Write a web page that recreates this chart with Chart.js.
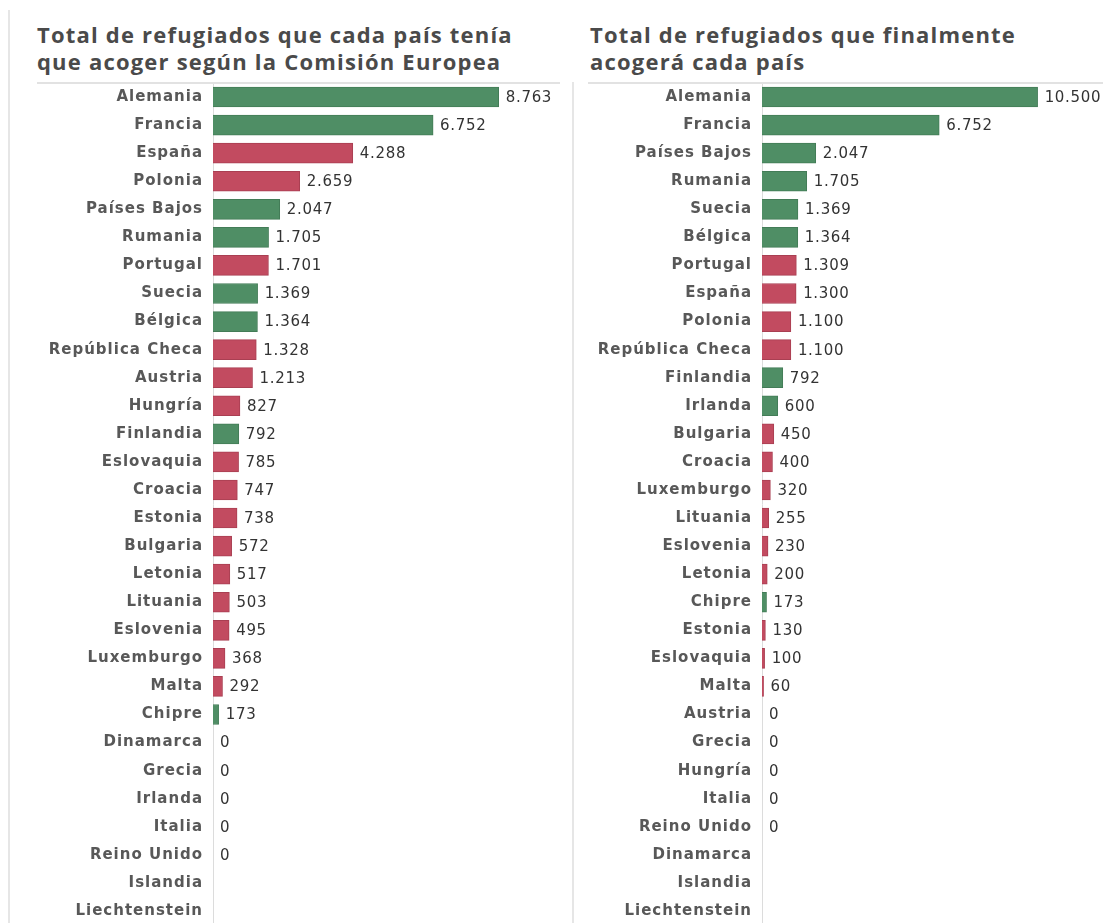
<!DOCTYPE html>
<html lang="es">
<head>
<meta charset="utf-8">
<script src="https://cdn.jsdelivr.net/npm/chart.js@4.4.1/dist/chart.umd.min.js"></script>
<style>
  html, body { margin:0; padding:0; background:#fff; width:1103px; height:923px; overflow:hidden; }
  .title { position:absolute; font-family:"Open Sans", sans-serif; font-weight:700; font-size:22px; line-height:27px; color:#4a4a4a; letter-spacing:1.2px; white-space:nowrap; }
  .hline { position:absolute; height:2px; background:#e2e2e2; z-index:2; }
  .vline { position:absolute; width:2px; background:#e6e6e6; z-index:2; }
  canvas { position:absolute; }
</style>
</head>
<body>
<div class="vline" style="left:8px;top:10px;height:913px"></div>
<div class="vline" style="left:572px;top:82px;height:841px"></div>

<div class="title" style="left:37px;top:21px">Total de refugiados que cada país tenía<br>que acoger según la Comisión Europea</div>
<div class="hline" style="left:37px;top:82px;width:523px"></div>
<div class="title" style="left:590px;top:21px">Total de refugiados que finalmente<br>acogerá cada país</div>
<div class="hline" style="left:588px;top:82px;width:515px"></div>

<canvas id="leftChart" width="560" height="842" style="left:10px;top:83px"></canvas>
<canvas id="rightChart" width="523" height="842" style="left:580px;top:83px"></canvas>

<script>
// ---- data: cuota según la Comisión Europea ----
const cuotaPaises = ['Alemania','Francia','España','Polonia','Países Bajos','Rumania','Portugal','Suecia','Bélgica','República Checa','Austria','Hungría','Finlandia','Eslovaquia','Croacia','Estonia','Bulgaria','Letonia','Lituania','Eslovenia','Luxemburgo','Malta','Chipre','Dinamarca','Grecia','Irlanda','Italia','Reino Unido','Islandia','Liechtenstein'];
const cuotaValores = [8763,6752,4288,2659,2047,1705,1701,1369,1364,1328,1213,827,792,785,747,738,572,517,503,495,368,292,173,0,0,0,0,0,null,null];
// g = acoge lo mismo o más, r = acoge menos
const cuotaTipo = ['g','g','r','r','g','g','r','g','g','r','r','r','g','r','r','r','r','r','r','r','r','r','g','r','r','r','r','r','r','r'];

// ---- data: lo que finalmente acogerá cada país ----
const finalPaises = ['Alemania','Francia','Países Bajos','Rumania','Suecia','Bélgica','Portugal','España','Polonia','República Checa','Finlandia','Irlanda','Bulgaria','Croacia','Luxemburgo','Lituania','Eslovenia','Letonia','Chipre','Estonia','Eslovaquia','Malta','Austria','Grecia','Hungría','Italia','Reino Unido','Dinamarca','Islandia','Liechtenstein'];
const finalValores = [10500,6752,2047,1705,1369,1364,1309,1300,1100,1100,792,600,450,400,320,255,230,200,173,130,100,60,0,0,0,0,0,null,null,null];
const finalTipo = ['g','g','g','g','g','g','r','r','r','r','g','g','r','r','r','r','r','r','g','r','r','r','r','r','r','r','r','r','r','r'];

const FILL = { g:'#4f8e65', r:'#c24b60' };
const EDGE = { g:'#437c57', r:'#a93f52' };

function fmt(v) {
  return String(v).replace(/\B(?=(\d{3})+(?!\d))/g, '.');
}

const valueLabels = {
  id: 'valueLabels',
  beforeDraw(chart) {
    chart.ctx.letterSpacing = '1px';
  },
  afterDatasetsDraw(chart) {
    const ctx = chart.ctx;
    const vals = chart.data.datasets[0].data;
    const meta = chart.getDatasetMeta(0);
    ctx.save();
    ctx.font = '15px "DejaVu Sans", sans-serif';
    ctx.letterSpacing = '0.7px';
    ctx.fillStyle = '#333';
    ctx.textAlign = 'left';
    ctx.textBaseline = 'middle';
    meta.data.forEach((bar, i) => {
      if (vals[i] == null) return;
      ctx.fillText(fmt(vals[i]), bar.x + 7, bar.y + 1);
    });
    ctx.restore();
  }
};

function makeChart(id, labels, values, tipo, axisW, xMax, padRight) {
  return new Chart(document.getElementById(id), {
    type: 'bar',
    data: {
      labels,
      datasets: [{
        data: values,
        backgroundColor: tipo.map(t => FILL[t]),
        borderColor: tipo.map(t => EDGE[t]),
        borderWidth: 1,
        borderSkipped: 'left',
        barThickness: 20
      }]
    },
    options: {
      indexAxis: 'y',
      responsive: false,
      devicePixelRatio: 1,
      animation: false,
      layout: { padding: { left:0, top:0, bottom:0, right:padRight } },
      plugins: { legend:{display:false}, tooltip:{enabled:false}, title:{display:false} },
      scales: {
        x: { display:false, min:0, max:xMax },
        y: {
          afterFit: s => { s.width = axisW; s.paddingTop = 0; s.paddingBottom = 0; },
          grid: { display:false, drawTicks:false },
          border: { display:true, color:'#dcdcdc', width:1 },
          ticks: {
            padding: 10,
            color: '#585858',
            font: { family:'"DejaVu Sans", sans-serif', size:15, weight:'bold' }
          }
        }
      }
    },
    plugins: [valueLabels]
  });
}

makeChart('leftChart', cuotaPaises, cuotaValores, cuotaTipo, 203, 10000, 31);
makeChart('rightChart', finalPaises, finalValores, finalTipo, 182, 12000, 26);
</script>
</body>
</html>
